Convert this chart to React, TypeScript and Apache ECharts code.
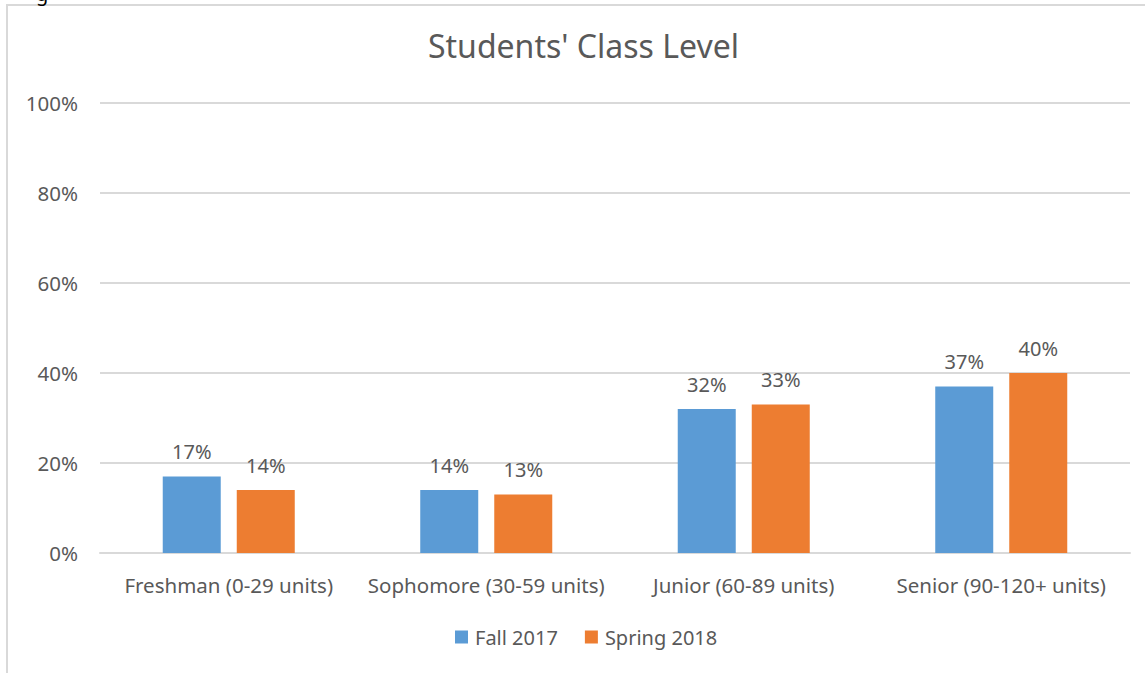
import React, { useEffect, useRef } from "react";
import * as echarts from "echarts";

const categories = [
  "Freshman (0-29 units)",
  "Sophomore (30-59 units)",
  "Junior (60-89 units)",
  "Senior (90-120+ units)",
];
const fall2017 = [0.17, 0.14, 0.32, 0.37];
const spring2018 = [0.14, 0.13, 0.33, 0.4];
const seriesNames = ["Fall 2017", "Spring 2018"];
const titleText = "Students' Class Level";

const FONT = "'Noto Sans', 'Open Sans', sans-serif";
const TXT = "#595959";

export default function App() {
  const ref = useRef<HTMLDivElement>(null);
  useEffect(() => {
    document.body.style.margin = "0";
    const chart = echarts.init(ref.current!, null, { renderer: "svg" });
    const pct = (v: number) => Math.round(v * 100) + "%";
    chart.setOption({
      animation: false,
      backgroundColor: "#ffffff",
      textStyle: { fontFamily: FONT, color: TXT },
      title: {
        text: titleText,
        left: 423,
        top: 24,
        itemGap: 0,
        textStyle: { fontFamily: FONT, fontSize: 32, fontWeight: "normal", color: TXT },
      },
      graphic: [
        {
          type: "rect",
          shape: { x: 7, y: 5, width: 1160, height: 700 },
          style: { fill: "none", stroke: "#D9D9D9", lineWidth: 2 },
          silent: true,
        },
        {
          type: "text",
          x: 36,
          y: -17,
          style: { text: "g", fontSize: 20, fontFamily: FONT, fill: "#000", textVerticalAlign: "top" },
          silent: true,
        },
      ],
      legend: {
        bottom: 21,
        left: 450,
        itemWidth: 13,
        itemHeight: 13,
        itemGap: 27,
        icon: "rect",
        textStyle: { fontFamily: FONT, fontSize: 20, color: TXT, padding: [0, 0, 0, 2] },
        data: seriesNames,
      },
      grid: { left: 100, right: 15, top: 103, bottom: 120, containLabel: false },
      xAxis: {
        type: "category",
        data: categories,
        axisLine: { lineStyle: { color: "#D9D9D9", width: 2 } },
        axisTick: { show: false },
        axisLabel: { interval: 0, fontFamily: FONT, fontSize: 20.5, color: TXT, margin: 21 },
      },
      yAxis: {
        type: "value",
        min: 0,
        max: 1,
        interval: 0.2,
        axisLine: { show: false },
        axisTick: { show: false },
        splitLine: { lineStyle: { color: "#D9D9D9", width: 2 } },
        axisLabel: { fontFamily: FONT, fontSize: 20.5, color: TXT, margin: 22, formatter: pct },
      },
      series: [
        {
          name: seriesNames[0],
          type: "bar",
          data: fall2017,
          barWidth: 58,
          barGap: "27.6%",
          itemStyle: { color: "#5B9BD5" },
          label: { show: true, position: "top", distance: 15, formatter: (p: any) => pct(p.value), fontFamily: FONT, fontSize: 20, color: TXT },
        },
        {
          name: seriesNames[1],
          type: "bar",
          data: spring2018,
          barWidth: 58,
          itemStyle: { color: "#ED7D31" },
          label: { show: true, position: "top", distance: 15, formatter: (p: any) => pct(p.value), fontFamily: FONT, fontSize: 20, color: TXT },
        },
      ],
    });
    return () => chart.dispose();
  }, []);
  return <div ref={ref} style={{ position: "fixed", left: 0, top: 0, width: 1145, height: 673 }} />;
}
